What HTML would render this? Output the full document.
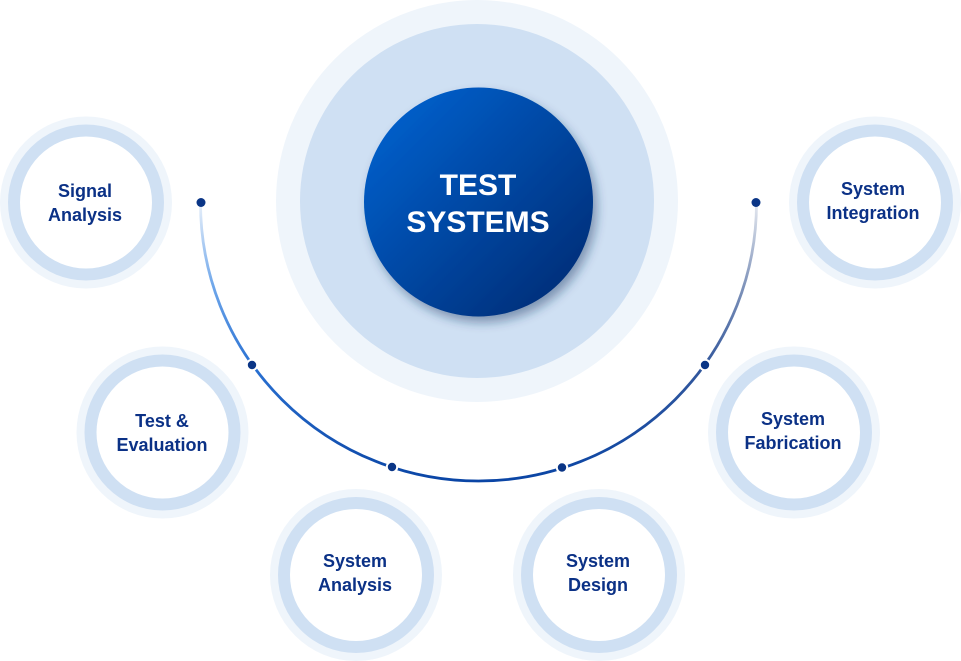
<!DOCTYPE html>
<html><head><meta charset="utf-8">
<style>
html,body{margin:0;padding:0;background:#fff;}
body{width:961px;height:661px;overflow:hidden;}
svg{display:block;}
.lbl{font-family:"Liberation Sans",Arial,sans-serif;font-weight:700;font-size:18px;fill:#0b3186;text-anchor:middle;}
.ctr{font-family:"Liberation Sans",Arial,sans-serif;font-weight:700;font-size:30px;fill:#ffffff;text-anchor:middle;}
</style></head>
<body>
<svg width="961" height="661" viewBox="0 0 961 661" xmlns="http://www.w3.org/2000/svg">
<defs>
  <linearGradient id="cg" x1="0" y1="0" x2="1" y2="1">
    <stop offset="0" stop-color="#0066d6"/>
    <stop offset="1" stop-color="#03286e"/>
  </linearGradient>
  <filter id="sh" x="-30%" y="-30%" width="160%" height="160%">
    <feGaussianBlur in="SourceAlpha" stdDeviation="5"/>
    <feOffset dx="4" dy="6" result="b"/>
    <feFlood flood-color="#1a3a66" flood-opacity="0.45"/>
    <feComposite in2="b" operator="in"/>
    <feMerge><feMergeNode/><feMergeNode in="SourceGraphic"/></feMerge>
  </filter>
  <linearGradient id="lg" gradientUnits="userSpaceOnUse" x1="0" y1="203" x2="0" y2="481">
    <stop offset="0" stop-color="#e8f0fa"/>
    <stop offset="0.3" stop-color="#6ea6ea"/>
    <stop offset="0.58" stop-color="#2b72d3"/>
    <stop offset="1" stop-color="#0a45a5"/>
  </linearGradient>
  <linearGradient id="rg" gradientUnits="userSpaceOnUse" x1="0" y1="203" x2="0" y2="481">
    <stop offset="0" stop-color="#e4e8ef"/>
    <stop offset="0.3" stop-color="#7f93ba"/>
    <stop offset="0.58" stop-color="#34589c"/>
    <stop offset="1" stop-color="#0a45a5"/>
  </linearGradient>
</defs>

<!-- central circles -->
<circle cx="477" cy="201" r="201" fill="#eff5fb"/>
<circle cx="477" cy="201" r="177" fill="#cfe0f3"/>
<circle cx="478.5" cy="202" r="114.5" fill="url(#cg)" filter="url(#sh)"/>
<text class="ctr" x="478" y="195">TEST</text>
<text class="ctr" x="478" y="232">SYSTEMS</text>

<!-- arc -->
<path d="M200.5 203 A278 278 0 0 0 478.5 481" fill="none" stroke="url(#lg)" stroke-width="2.8"/>
<path d="M478.5 481 A278 278 0 0 0 756.5 203" fill="none" stroke="url(#rg)" stroke-width="2.8"/>

<!-- dots -->
<g fill="#0a3586" stroke="#ffffff" stroke-width="2">
  <circle cx="201" cy="202.5" r="4.5" stroke="none"/>
  <circle cx="756" cy="202.5" r="4.5" stroke="none"/>
  <circle cx="252" cy="365" r="5.2"/>
  <circle cx="705" cy="365" r="5.2"/>
  <circle cx="392" cy="467" r="5.2"/>
  <circle cx="562" cy="467.5" r="5.2"/>
</g>

<!-- small nodes -->
<g>
  <circle cx="86" cy="202.5" r="86" fill="#eff5fb"/>
  <circle cx="86" cy="202.5" r="78" fill="#cfe0f3"/>
  <circle cx="86" cy="202.5" r="66" fill="#ffffff"/>
  <text class="lbl" x="85" y="197">Signal</text>
  <text class="lbl" x="85" y="221">Analysis</text>
</g>
<g>
  <circle cx="875" cy="202.5" r="86" fill="#eff5fb"/>
  <circle cx="875" cy="202.5" r="78" fill="#cfe0f3"/>
  <circle cx="875" cy="202.5" r="66" fill="#ffffff"/>
  <text class="lbl" x="873" y="195">System</text>
  <text class="lbl" x="873" y="219">Integration</text>
</g>
<g>
  <circle cx="162.5" cy="432.5" r="86" fill="#eff5fb"/>
  <circle cx="162.5" cy="432.5" r="78" fill="#cfe0f3"/>
  <circle cx="162.5" cy="432.5" r="66" fill="#ffffff"/>
  <text class="lbl" x="162" y="427">Test &amp;</text>
  <text class="lbl" x="162" y="451">Evaluation</text>
</g>
<g>
  <circle cx="794" cy="432.5" r="86" fill="#eff5fb"/>
  <circle cx="794" cy="432.5" r="78" fill="#cfe0f3"/>
  <circle cx="794" cy="432.5" r="66" fill="#ffffff"/>
  <text class="lbl" x="793" y="425">System</text>
  <text class="lbl" x="793" y="449">Fabrication</text>
</g>
<g>
  <circle cx="356" cy="575" r="86" fill="#eff5fb"/>
  <circle cx="356" cy="575" r="78" fill="#cfe0f3"/>
  <circle cx="356" cy="575" r="66" fill="#ffffff"/>
  <text class="lbl" x="355" y="567">System</text>
  <text class="lbl" x="355" y="591">Analysis</text>
</g>
<g>
  <circle cx="599" cy="575" r="86" fill="#eff5fb"/>
  <circle cx="599" cy="575" r="78" fill="#cfe0f3"/>
  <circle cx="599" cy="575" r="66" fill="#ffffff"/>
  <text class="lbl" x="598" y="567">System</text>
  <text class="lbl" x="598" y="591">Design</text>
</g>
</svg>
</body></html>
